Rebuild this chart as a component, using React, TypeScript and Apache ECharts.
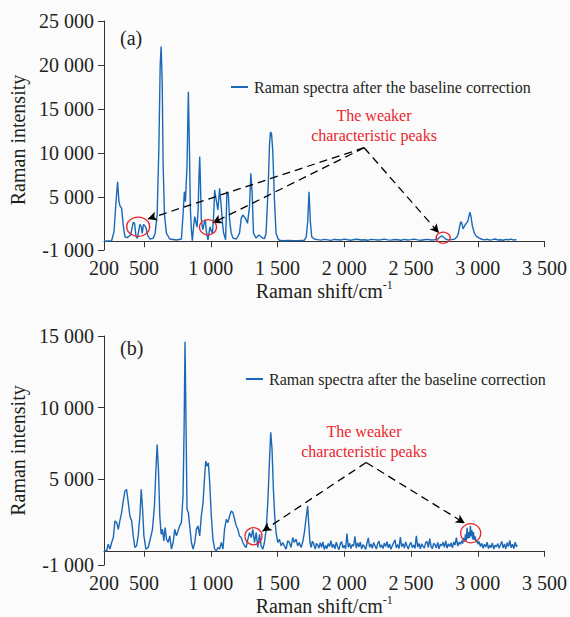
import React, { useEffect, useRef } from "react";
import * as echarts from "echarts";

// ---------- tick labels ----------
const xTicks = [200, 500, 1000, 1500, 2000, 2500, 3000, 3500];
const yTicksA = [-1000, 5000, 10000, 15000, 20000, 25000];
const yTicksB = [-1000, 5000, 10000, 15000];
const seriesName = "Raman spectra after the baseline correction";

// ---------- panel (a) spectrum: [Raman shift, intensity] ----------
const spectrumA_fingerprint = [
  [200, 0], [230, 30], [257, 50], [275, 1080], [290, 4480], [302, 6750], [312, 4480], [319, 4030],
  [332, 3720], [344, 1830], [357, 500], [374, 400], [399, 700], [419, 2140], [429, 2020], [439, 620],
  [449, 320], [459, 1070], [469, 1900], [479, 1640], [486, 880], [496, 1900], [506, 1760], [516, 1450],
  [526, 700], [543, 250], [568, 320], [583, 880], [598, 2970], [611, 10540], [621, 20000], [628, 22100],
  [636, 18100], [643, 8650], [653, 2970], [668, 880], [693, 250], [743, 130], [780, 250], [792, 2970],
  [802, 5620], [810, 4480], [822, 8650], [832, 16970], [840, 10540], [847, 3720], [855, 1200], [862, 50],
  [870, 1500], [880, 2800], [888, 2200], [897, 1600], [905, 3500], [912, 7500], [917, 9600], [922, 7000],
  [929, 2500], [940, 1300], [950, 2000], [959, 2400], [966, 1200], [979, 150], [994, 1640], [1003, 1200],
  [1012, 880], [1020, 2500], [1029, 5810], [1041, 4675], [1053, 3540], [1066, 6000], [1078, 3920],
  [1088, 2000], [1096, 930], [1111, 170], [1121, 5620], [1131, 5430], [1141, 2400], [1152, 1000],
  [1166, 350], [1191, 250], [1215, 880], [1228, 2590], [1240, 2970], [1260, 2590], [1275, 2030],
  [1290, 3920], [1300, 7700], [1310, 5430], [1320, 880], [1340, 350], [1360, 700], [1377, 500],
  [1390, 350], [1402, 300], [1414, 880], [1430, 6190], [1440, 11000], [1447, 12400], [1455, 12200],
  [1464, 10350], [1477, 4675], [1489, 900], [1503, 300], [1514, 100], [1540, 50], [1580, 80], [1620, 60],
  [1660, 70], [1700, 100], [1715, 500], [1726, 2210], [1736, 5620], [1746, 2210], [1756, 510], [1775, 250],
];
const spectrumA_silent = [
  [1800, 180], [1825, 120], [1850, 210], [1875, 150], [1900, 90], [1925, 200], [1950, 170], [1975, 130],
  [2000, 230], [2025, 160], [2050, 110], [2075, 190], [2100, 220], [2125, 140], [2150, 170], [2175, 100],
  [2200, 210], [2225, 180], [2250, 130], [2275, 160], [2300, 240], [2325, 150], [2350, 120], [2375, 190],
  [2400, 170], [2425, 110], [2450, 200], [2475, 140], [2500, 180], [2525, 230], [2550, 150], [2575, 100],
  [2600, 170], [2625, 210], [2650, 130], [2675, 160],
];
const spectrumA_ch = [
  [2700, 250], [2715, 450], [2730, 620], [2745, 420], [2760, 250], [2775, 150], [2800, 180], [2825, 220],
  [2845, 500], [2855, 900], [2862, 1500], [2872, 2200], [2880, 2100], [2890, 1400], [2900, 1700],
  [2912, 2000], [2925, 2250], [2935, 2900], [2942, 3300], [2950, 2700], [2960, 1700], [2975, 900],
  [2990, 550], [3005, 400], [3030, 220], [3050, 150], [3070, 220], [3090, 120], [3110, 180], [3130, 250],
  [3150, 140], [3170, 170], [3190, 110], [3210, 200], [3230, 160], [3250, 230], [3270, 130], [3290, 180],
];

// ---------- panel (b) spectrum ----------
const spectrumB_fingerprint = [
  [200, 0], [220, 0], [232, 460], [245, 115], [257, 577], [270, 925], [282, 2085], [295, 1970],
  [307, 1500], [319, 2085], [332, 2665], [344, 3475], [357, 4170], [369, 4290], [382, 3360], [394, 2430],
  [407, 2085], [419, 1040], [431, 230], [444, 345], [456, 1040], [469, 2430], [479, 4290], [489, 2900],
  [499, 1040], [514, 115], [531, 230], [549, 925], [563, 1500], [578, 3130], [588, 5445], [598, 7420],
  [608, 5680], [618, 2430], [628, 1155], [638, 1500], [648, 690], [658, 1620], [668, 810], [680, 577],
  [693, 1040], [705, 115], [718, 577], [730, 1500], [743, 1040], [755, 1390], [767, 1735], [780, 1970],
  [792, 3825], [800, 8460], [807, 14606], [815, 8460], [822, 2900], [832, 2665], [842, 1735], [855, 577],
  [867, 115], [880, 577], [892, 1500], [904, 1735], [917, 1040], [929, 2430], [942, 3360], [954, 5215],
  [962, 6260], [972, 5910], [982, 6140], [992, 4750], [1004, 2430], [1016, 810], [1029, 115], [1041, 0],
  [1054, 230], [1066, 115], [1079, 577], [1091, 115], [1103, 1500], [1116, 2200], [1128, 1970],
  [1141, 2430], [1153, 2780], [1166, 2665], [1178, 2200], [1191, 1735], [1203, 1500], [1215, 1040],
  [1228, 925], [1240, 577], [1253, 345], [1265, 230], [1278, 810], [1290, 1270], [1303, 925], [1315, 1500],
  [1327, 577], [1340, 1270], [1352, 230], [1365, 1155], [1377, 345], [1390, 115], [1402, 577], [1415, 1500],
  [1427, 3360], [1439, 6140], [1449, 8275], [1459, 7070], [1469, 4290], [1479, 2430], [1489, 1270],
  [1502, 577], [1514, 810], [1527, 345], [1539, 577], [1551, 345], [1564, 115], [1577, 700], [1589, 577],
  [1601, 230], [1614, 925], [1626, 577], [1639, 810], [1651, 345], [1663, 577], [1676, 230], [1688, 577],
  [1701, 1270], [1713, 2200], [1726, 3130], [1733, 1970], [1743, 577], [1753, 230], [1760, 650], [1768, 577],
  [1775, 350], [1783, 115], [1791, 520],
];
const spectrumB_silent = [
  [1800, 420], [1810, 180], [1820, 560], [1830, 240], [1840, 620], [1850, 90], [1860, 380], [1870, 150],
  [1880, 510], [1890, 300], [1900, 700], [1910, 220], [1920, 450], [1930, 130], [1940, 600], [1950, 280],
  [1960, 80], [1970, 480], [1980, 650], [1990, 200], [2000, 390], [2010, 120], [2020, 1200], [2030, 250],
  [2040, 520], [2050, 160], [2060, 440], [2070, 330], [2080, 1000], [2090, 190], [2100, 560], [2110, 270],
  [2120, 610], [2130, 140], [2140, 420], [2150, 300], [2160, 100], [2170, 530], [2180, 900], [2190, 240],
  [2200, 470], [2210, 170], [2220, 580], [2230, 350], [2240, 120], [2250, 490], [2260, 680], [2270, 230],
  [2280, 410], [2290, 160], [2300, 540], [2310, 290], [2320, 630], [2330, 200], [2340, 470], [2350, 110],
  [2360, 360], [2370, 560], [2380, 760], [2390, 210], [2400, 430], [2410, 150], [2420, 950], [2430, 280],
  [2440, 500], [2450, 190], [2460, 620], [2470, 330], [2480, 120], [2490, 450], [2500, 580], [2510, 220],
  [2520, 400], [2530, 170], [2540, 1050], [2550, 260], [2560, 510], [2570, 140], [2580, 480], [2590, 310],
  [2600, 180], [2610, 570], [2620, 640], [2630, 230], [2640, 850], [2650, 300], [2660, 160], [2670, 520],
  [2680, 420], [2690, 200], [2700, 590], [2710, 130], [2720, 460], [2730, 350], [2740, 600], [2750, 240],
  [2760, 700], [2770, 180], [2780, 480], [2790, 300], [2800, 550], [2810, 210], [2820, 620], [2830, 400],
  [2840, 920], [2850, 330], [2860, 600], [2870, 450],
];
const spectrumB_ch = [
  [2880, 700], [2887, 500], [2895, 900], [2902, 650], [2908, 1150], [2914, 700], [2920, 1600], [2926, 850],
  [2932, 1300], [2938, 900], [2945, 1750], [2950, 1000], [2956, 1450], [2962, 800], [2968, 1300],
  [2974, 750], [2980, 1000], [2988, 600], [2995, 750], [3002, 450], [3010, 650], [3020, 300], [3030, 520],
  [3040, 180], [3050, 460], [3060, 260], [3070, 600], [3080, 150], [3090, 400], [3100, 220], [3110, 540],
  [3120, 120], [3130, 380], [3140, 280], [3150, 500], [3160, 170], [3170, 420], [3180, 650], [3190, 200],
  [3200, 480], [3210, 130], [3220, 560], [3230, 300], [3240, 720], [3250, 210], [3260, 450], [3270, 160],
  [3280, 600], [3290, 280], [3295, 420],
];

// ---------- annotations (data coordinates) ----------
const apexA = [2149, 10611];
const arrowTargetsA = [[528, 2519], [1014, 2065], [2709, 930]];
const circlesA = [[456, 1645], [979, 1576], [2741, 396]];
const apexB = [2164, 6166];
const arrowTargetsB = [[1387, 1365], [2903, 1922]];
const circlesB = [[1320, 1018], [2947, 1226]];

const SERIF = "Liberation Serif";
const TEXT = "#231f20";
const BLUE = "#1b69b6";
const RED = "#e8262d";

const fmt = (v: number) => String(v).replace(/\B(?=(\d{3})+(?!\d))/g, " ");

function xAxis(gridIndex: number) {
  return {
    type: "value",
    gridIndex,
    min: 200,
    max: 3500,
    name: "{a|Raman shift/cm}{b|-1}",
    nameLocation: "middle",
    nameGap: 25,
    nameTextStyle: {
      rich: {
        a: { fontSize: 20, fontFamily: SERIF, color: TEXT, lineHeight: 24 },
        b: { fontSize: 12, fontFamily: SERIF, color: TEXT, lineHeight: 14, verticalAlign: "top" },
      },
    },
    axisLine: { show: true, lineStyle: { color: "#333", width: 1 } },
    axisTick: { show: true, inside: false, length: 6, customValues: xTicks, lineStyle: { color: "#333" } },
    axisLabel: { customValues: xTicks, formatter: fmt, fontSize: 20, fontFamily: SERIF, color: TEXT, margin: 8 },
    splitLine: { show: false },
  };
}

function yAxis(gridIndex: number, max: number, ticks: number[], namePadding: number[]) {
  return {
    type: "value",
    gridIndex,
    min: -1000,
    max,
    name: "Raman intensity",
    nameLocation: "middle",
    nameGap: 70,
    nameTextStyle: { fontSize: 20, fontFamily: SERIF, color: TEXT, padding: namePadding },
    axisLine: { show: true, lineStyle: { color: "#333", width: 1 } },
    axisTick: { show: true, inside: false, length: 6, customValues: ticks, lineStyle: { color: "#333" } },
    axisLabel: { customValues: ticks, formatter: fmt, fontSize: 20, fontFamily: SERIF, color: TEXT, margin: 10 },
    splitLine: { show: false },
  };
}

function annotations(apex: number[], targets: number[][], circles: number[][], sizes: number[][]) {
  return {
    markLine: {
      silent: true,
      animation: false,
      symbol: ["none", "arrow"],
      symbolSize: [7, 9],
      label: { show: false },
      lineStyle: { color: "#000", type: [8, 5], width: 1.3 },
      data: targets.map((t) => [{ coord: apex }, { coord: t }]),
    },
    markPoint: {
      silent: true,
      animation: false,
      label: { show: false },
      data: circles.map((c, i) => ({
        coord: c,
        symbol: "circle",
        symbolSize: sizes[i],
        itemStyle: { color: "rgba(0,0,0,0)", borderColor: RED, borderWidth: 1.3 },
      })),
    },
  };
}

function legend(left: number, top: number) {
  return {
    left, top, itemWidth: 17, itemHeight: 2, itemGap: 6, padding: 0,
    icon: "rect",
    data: [seriesName],
    itemStyle: { color: BLUE },
    textStyle: { fontSize: 16, fontFamily: SERIF, color: TEXT, padding: [0, 0, 0, 1] },
    selectedMode: false,
  };
}

const option = {
  animation: false,
  backgroundColor: "#fbfbfb",
  grid: [
    { left: 104, top: 21, width: 442, height: 229 },
    { left: 104, top: 336, width: 442, height: 230 },
  ],
  xAxis: [xAxis(0), xAxis(1)],
  yAxis: [yAxis(0, 25000, yTicksA, [0, 9, 0, 0]), yAxis(1, 15000, yTicksB, [0, 0, 0, 0])],
  legend: [legend(231, 79), legend(246, 371)],
  graphic: [
    { type: "text", left: 120, top: 28, style: { text: "(a)", fontSize: 20, fontFamily: SERIF, fill: TEXT } },
    { type: "text", left: 120, top: 338, style: { text: "(b)", fontSize: 20, fontFamily: SERIF, fill: TEXT } },
    {
      type: "text", x: 374, y: 105,
      style: { text: "The weaker\ncharacteristic peaks", fontSize: 16, fontFamily: SERIF, fill: RED, align: "center", verticalAlign: "top", lineHeight: 20 },
    },
    {
      type: "text", x: 364, y: 421,
      style: { text: "The weaker\ncharacteristic peaks", fontSize: 16, fontFamily: SERIF, fill: RED, align: "center", verticalAlign: "top", lineHeight: 20 },
    },
  ],
  series: [
    {
      name: seriesName,
      type: "line",
      xAxisIndex: 0,
      yAxisIndex: 0,
      symbol: "none",
      showSymbol: false,
      lineStyle: { color: BLUE, width: 1.4 },
      itemStyle: { color: BLUE },
      data: [...spectrumA_fingerprint, ...spectrumA_silent, ...spectrumA_ch],
      ...annotations(apexA, arrowTargetsA, circlesA, [[23, 19], [17, 15], [14, 11]]),
    },
    {
      name: seriesName,
      type: "line",
      xAxisIndex: 1,
      yAxisIndex: 1,
      symbol: "none",
      showSymbol: false,
      lineStyle: { color: BLUE, width: 1.4 },
      itemStyle: { color: BLUE },
      data: [...spectrumB_fingerprint, ...spectrumB_silent, ...spectrumB_ch],
      ...annotations(apexB, arrowTargetsB, circlesB, [[17, 17], [20, 19]]),
    },
  ],
};

export default function App() {
  const ref = useRef<HTMLDivElement>(null);
  useEffect(() => {
    document.body.style.margin = "0";
    const chart = echarts.init(ref.current!, null, { renderer: "svg" });
    chart.setOption(option as any);
    return () => chart.dispose();
  }, []);
  return <div ref={ref} style={{ width: 570, height: 617 }} />;
}
